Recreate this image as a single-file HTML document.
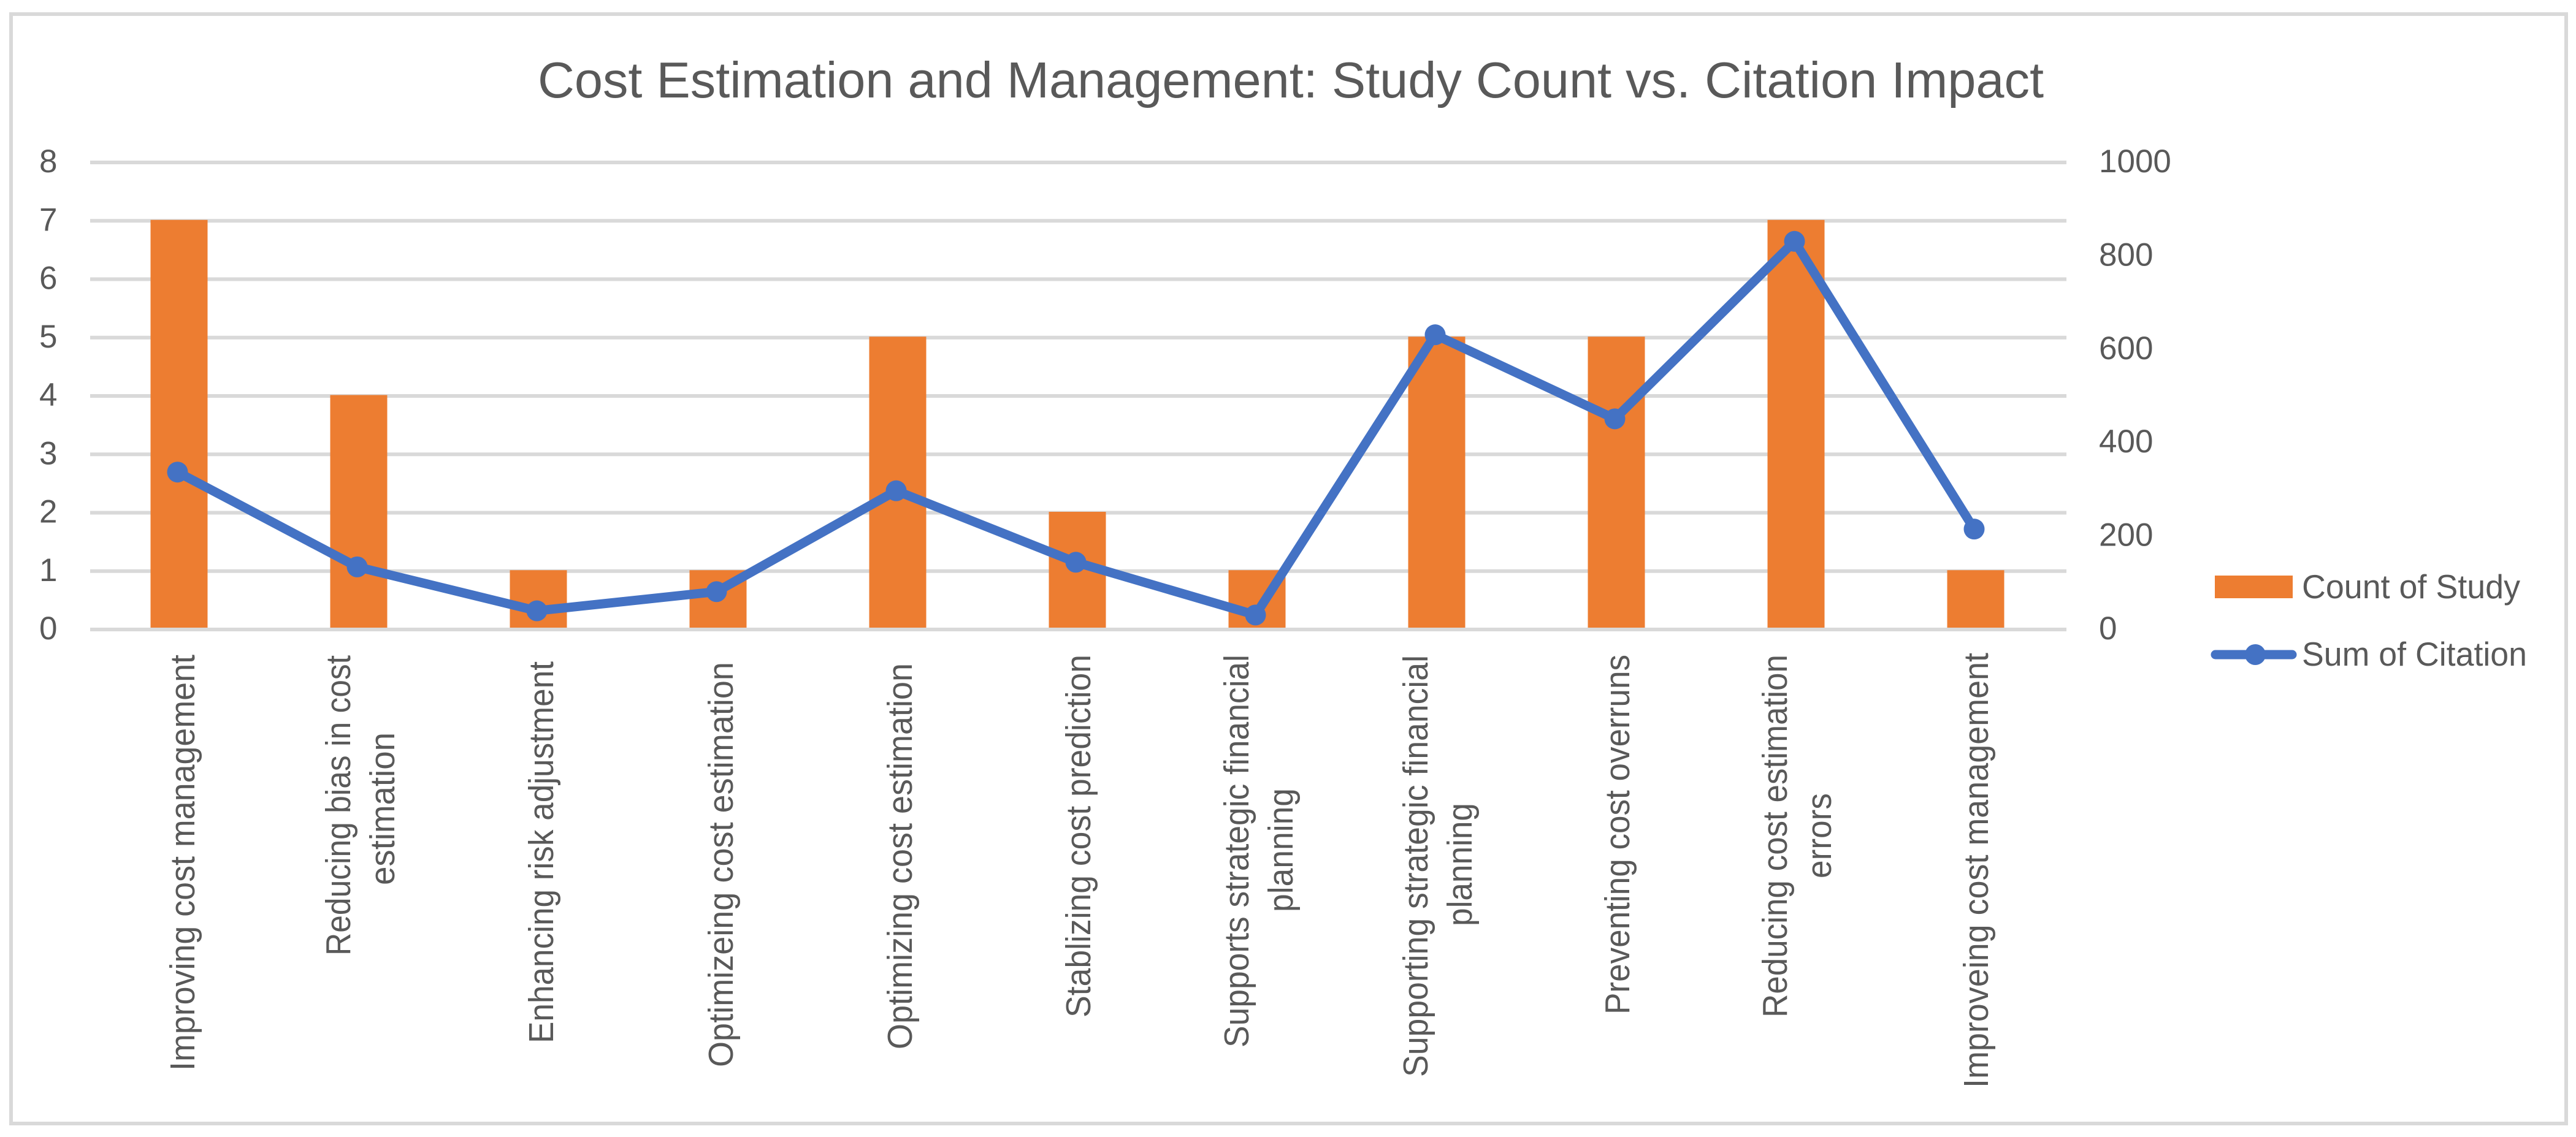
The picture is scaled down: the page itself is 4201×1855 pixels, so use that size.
<!DOCTYPE html>
<html lang="en">
<head>
<meta charset="utf-8">
<title>Cost Estimation and Management: Study Count vs. Citation Impact</title>
<style>
html,body{margin:0;padding:0;background:#fff;width:4201px;height:1855px;overflow:hidden}
svg{display:block}
text{font-family:"Liberation Sans",Arial,sans-serif;fill:#595959}
</style>
</head>
<body>
<svg id="chart" xmlns="http://www.w3.org/2000/svg" width="4201" height="1855" viewBox="0 0 4201 1855">
  <rect x="18" y="23" width="4167" height="1810" fill="#fff" stroke="#D9D9D9" stroke-width="6"/>
  <text x="877" y="159" font-size="83" textLength="2456" lengthAdjust="spacingAndGlyphs">Cost Estimation and Management: Study Count vs. Citation Impact</text>

  <g id="grid"></g>
  <g id="left-axis"></g>
  <g id="right-axis"></g>
  <g id="bars"></g>
  <g id="line"></g>

  <g font-size="57">
    <text transform="translate(317,1747) rotate(-90)" textLength="679" lengthAdjust="spacingAndGlyphs">Improving cost management</text>
    <text transform="translate(571,1559) rotate(-90)" textLength="490" lengthAdjust="spacingAndGlyphs">Reducing bias in cost</text>
    <text transform="translate(643,1444) rotate(-90)" textLength="249" lengthAdjust="spacingAndGlyphs">estimation</text>
    <text transform="translate(902,1702) rotate(-90)" textLength="623" lengthAdjust="spacingAndGlyphs">Enhancing risk adjustment</text>
    <text transform="translate(1195,1741) rotate(-90)" textLength="661" lengthAdjust="spacingAndGlyphs">Optimizeing cost estimation</text>
    <text transform="translate(1487,1712) rotate(-90)" textLength="630" lengthAdjust="spacingAndGlyphs">Optimizing cost estimation</text>
    <text transform="translate(1778,1660) rotate(-90)" textLength="592" lengthAdjust="spacingAndGlyphs">Stablizing cost prediction</text>
    <text transform="translate(2036,1709) rotate(-90)" textLength="641" lengthAdjust="spacingAndGlyphs">Supports strategic financial</text>
    <text transform="translate(2108,1488) rotate(-90)" textLength="202" lengthAdjust="spacingAndGlyphs">planning</text>
    <text transform="translate(2328,1757) rotate(-90)" textLength="688" lengthAdjust="spacingAndGlyphs">Supporting strategic financial</text>
    <text transform="translate(2400,1511) rotate(-90)" textLength="201" lengthAdjust="spacingAndGlyphs">planning</text>
    <text transform="translate(2657,1655) rotate(-90)" textLength="587" lengthAdjust="spacingAndGlyphs">Preventing cost overruns</text>
    <text transform="translate(2914,1660) rotate(-90)" textLength="592" lengthAdjust="spacingAndGlyphs">Reducing cost estimation</text>
    <text transform="translate(2986,1433) rotate(-90)" textLength="139" lengthAdjust="spacingAndGlyphs">errors</text>
    <text transform="translate(3242,1775) rotate(-90)" textLength="710" lengthAdjust="spacingAndGlyphs">Improveing cost management</text>
  </g>

  <g>
    <g>
      <rect x="3612" y="939" width="127" height="37" fill="#ED7D31"/>
      <text x="3754" y="976" font-size="55" textLength="356" lengthAdjust="spacingAndGlyphs">Count of Study</text>
    </g>
    <g>
      <line x1="3613" y1="1068" x2="3738" y2="1068" stroke="#4472C4" stroke-width="15" stroke-linecap="round"/>
      <circle cx="3678" cy="1068" r="17" fill="#4472C4"/>
      <text x="3754" y="1086" font-size="55" textLength="367" lengthAdjust="spacingAndGlyphs">Sum of Citation</text>
    </g>
  </g>
</svg>
<script>
const categories = ["Improving cost management", "Reducing bias in cost estimation", "Enhancing risk adjustment", "Optimizeing cost estimation", "Optimizing cost estimation", "Stablizing cost prediction", "Supports strategic financial planning", "Supporting strategic financial planning", "Preventing cost overruns", "Reducing cost estimation errors", "Improveing cost management"];
const studyCounts = [7, 4, 1, 1, 5, 2, 1, 5, 5, 7, 1];
const citationSums = [337, 134, 40, 81, 297, 144, 31, 631, 451, 831, 215];
const leftTicks = [0, 1, 2, 3, 4, 5, 6, 7, 8];
const rightTicks = [0, 200, 400, 600, 800, 1000];

const NS = "http://www.w3.org/2000/svg";
const plotLeft = 147, plotRight = 3370, plotTop = 265, plotBottom = 1027;
const leftMax = 8, rightMax = 1000;
const barWidth = 93, barBaseY = 1024;

function xCenter(i) { return plotLeft + (plotRight - plotLeft) / categories.length * (i + 0.5); }
function yLeft(v) { return plotBottom - (plotBottom - plotTop) * v / leftMax; }
function yRight(v) { return plotBottom - (plotBottom - plotTop) * v / rightMax; }
function slug(s) { return s.toLowerCase().replace(/[^a-z0-9]+/g, "-"); }
function make(tag, attrs, parent) {
  const el = document.createElementNS(NS, tag);
  for (const k in attrs) el.setAttribute(k, attrs[k]);
  parent.appendChild(el);
  return el;
}

const gridG = document.getElementById("grid");
const leftG = document.getElementById("left-axis");
const rightG = document.getElementById("right-axis");
const barsG = document.getElementById("bars");
const lineG = document.getElementById("line");

leftTicks.forEach(function (t) {
  const y = yLeft(t);
  const g = make("line", { x1: plotLeft, x2: plotRight, y1: y, y2: y, stroke: "#D9D9D9", "stroke-width": 6 }, gridG);
  
  
  const lab = make("text", { x: 64, y: y + 16, "font-size": 53 }, leftG);
  lab.textContent = String(t);
  
  
});

rightTicks.forEach(function (t) {
  const lab = make("text", { x: 3423, y: yRight(t) + 16, "font-size": 53 }, rightG);
  lab.textContent = String(t);
  
  
});

studyCounts.forEach(function (v, i) {
  const top = yLeft(v) - 1.5;
  const bar = make("rect", { x: xCenter(i) - 1.5 - barWidth / 2, y: top, width: barWidth, height: Math.max(0, barBaseY - top), fill: "#ED7D31" }, barsG);
  
  
});

const linePoints = citationSums.map(function (v, i) { return (xCenter(i) - 4) + "," + yRight(v); }).join(" ");
const polyline = make("polyline", { points: linePoints, fill: "none", stroke: "#4472C4", "stroke-width": 15, "stroke-linejoin": "round", "stroke-linecap": "round" }, lineG);



citationSums.forEach(function (v, i) {
  const dot = make("circle", { cx: xCenter(i) - 4, cy: yRight(v), r: 17, fill: "#4472C4" }, lineG);
  
  
});
</script>
</body>
</html>
